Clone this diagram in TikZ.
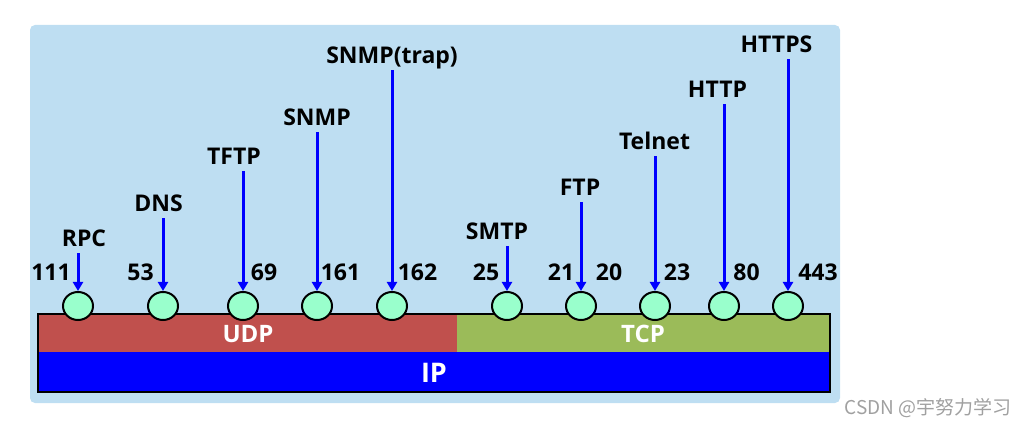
\documentclass[tikz,border=0pt]{standalone}
\usepackage{fontspec}
\setmainfont{Open Sans}
\newfontfamily\cjk{Noto Sans CJK SC}
\usetikzlibrary{arrows.meta,shapes.geometric}
\definecolor{panelblue}{RGB}{190,222,242}
\definecolor{udpred}{RGB}{192,80,77}
\definecolor{tcpgreen}{RGB}{155,187,89}
\definecolor{portmint}{RGB}{153,255,204}
\definecolor{ipblue}{RGB}{0,0,255}
\definecolor{wmgray}{RGB}{160,160,160}
\tikzset{
  lbl/.style={inner sep=0pt, anchor=base, text height=16pt, text depth=0pt, font=\fontsize{23}{25}\selectfont\bfseries},
  num/.style={inner sep=0pt, anchor=base, font=\fontsize{23}{25}\selectfont\bfseries},
  port/.style={ellipse, draw=black, line width=2pt, fill=portmint, minimum width=30pt, minimum height=28pt, inner sep=0pt},
  arr/.style={draw=ipblue, line width=3pt, -{Triangle[width=10pt,length=9pt]}, shorten <=6pt},
  bandtxt/.style={text=white, inner sep=0pt, anchor=base, font=\fontsize{24}{26}\selectfont\bfseries},
}
\begin{document}
\begin{tikzpicture}[x=1pt,y=-1pt]
\useasboundingbox (0,0) rectangle (1027,427);
% panel
\fill[panelblue, rounded corners=5pt] (30,25) rectangle (840,403);
% bands
\fill[udpred] (38,314) rectangle (457,352);
\fill[tcpgreen] (457,314) rectangle (830,352);
\fill[ipblue] (38,352) rectangle (830,392);
\draw[black, line width=2pt] (38,314) rectangle (830,392);
\node[bandtxt] (udp) at (248,342) {UDP};
\node[bandtxt] (tcp) at (643,342) {TCP};
\node[bandtxt, font=\fontsize{27}{29}\selectfont\bfseries] (ip) at (434,382) {IP};
% ports
\node[port] (c1) at (78,306) {};
\node[port] (c2) at (163,306) {};
\node[port] (c3) at (243,306) {};
\node[port] (c4) at (317,306) {};
\node[port] (c5) at (392,306) {};
\node[port] (c6) at (507,306) {};
\node[port] (c7) at (581,306) {};
\node[port] (c8) at (655,306) {};
\node[port] (c9) at (724,306) {};
\node[port] (c10) at (788,306) {};
% port numbers
\node[num] (n1) at (51,281) {111};
\node[num] (n2) at (140.5,281) {53};
\node[num] (n3) at (264,281) {69};
\node[num] (n4) at (340.5,281) {161};
\node[num] (n5) at (417.5,281) {162};
\node[num] (n6) at (486,281) {25};
\node[num] (n7a) at (561,281) {21};
\node[num] (n7b) at (609,281) {20};
\node[num] (n8) at (677,281) {23};
\node[num] (n9) at (746.5,281) {80};
\node[num] (n10) at (818,281) {443};
% protocol labels
\node[lbl] (l1) at (84,247) {RPC};
\node[lbl] (l2) at (158.5,212) {DNS};
\node[lbl] (l3) at (234,165) {TFTP};
\node[lbl] (l4) at (317,126) {SNMP};
\node[lbl] (l5) at (392,64) {SNMP(trap)};
\node[lbl] (l6) at (497,240) {SMTP};
\node[lbl] (l7) at (580,196) {FTP};
\node[lbl] (l8) at (654.5,150) {Telnet};
\node[lbl] (l9) at (717.5,98) {HTTP};
\node[lbl] (l10) at (776.5,53) {HTTPS};
% arrows
\foreach \i in {1,...,10}{
  \draw[arr] (c\i |- l\i.south) -- (c\i.north);
}
% watermark
\node[inner sep=0pt, anchor=center, text=wmgray, font=\cjk\fontsize{19}{21}\selectfont] (wm) at (928,408) {CSDN @宇努力学习};
\end{tikzpicture}
\end{document}
